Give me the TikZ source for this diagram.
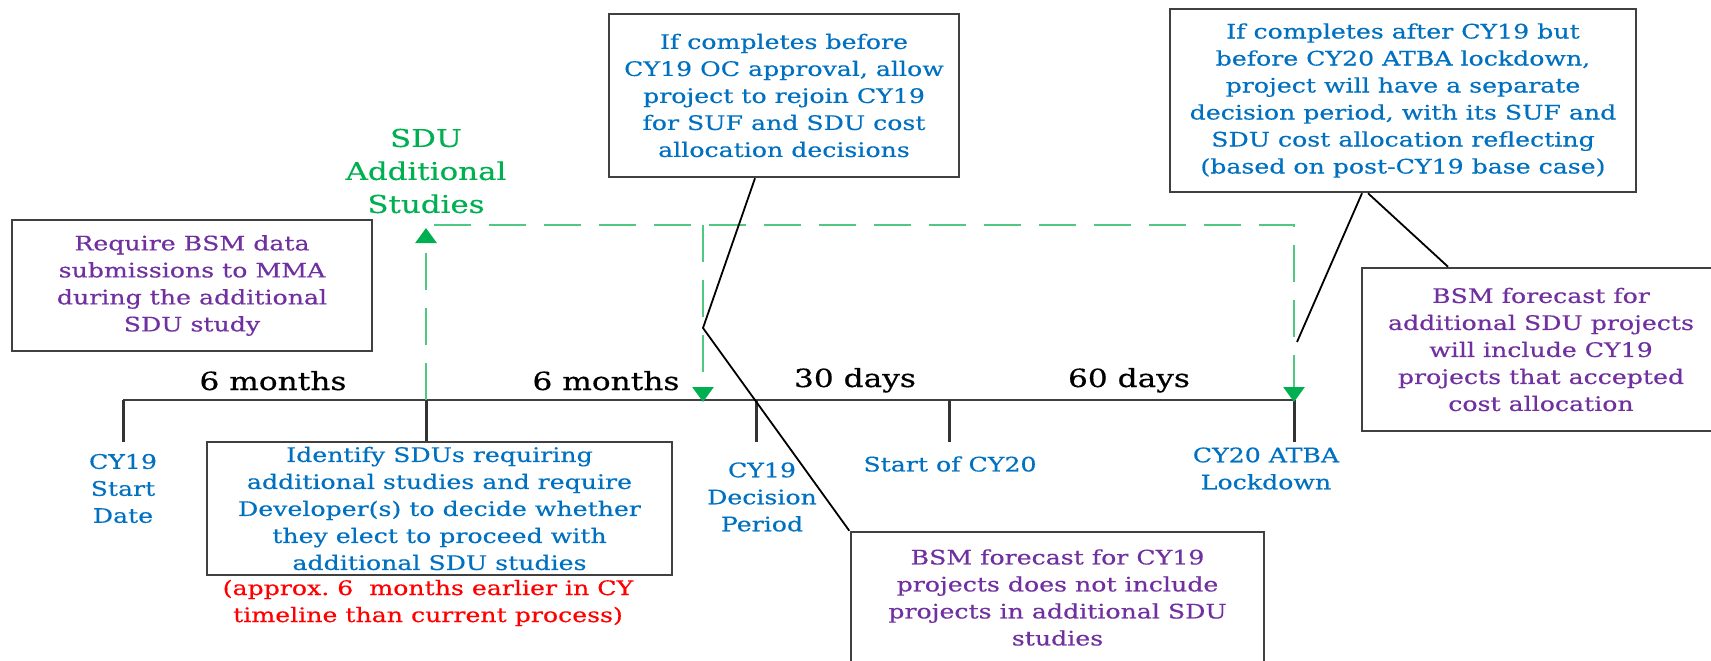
\documentclass[tikz,border=0pt]{standalone}
\usepackage{fontspec}
\setmainfont{DejaVu Serif}[FakeBold=0.4]
\usetikzlibrary{arrows.meta}

\definecolor{cyblue}{RGB}{0,112,192}
\definecolor{cypurple}{RGB}{112,48,160}
\definecolor{cygreen}{RGB}{0,176,80}
\definecolor{cydash}{RGB}{80,200,130}
\definecolor{cyframe}{RGB}{64,64,64}

\begin{document}
\begin{tikzpicture}[
                x=1pt, y=-1pt,
                txt/.style={xscale=1.26, inner sep=0pt, align=center, font=\fontsize{20}{27}\selectfont},
                notebox/.style={txt, rectangle, draw=cyframe, line width=2.5pt},
                durlabel/.style={xscale=1.25, inner sep=0pt, anchor=base, font=\fontsize{25}{33}\selectfont},
                tickline/.style={line width=3pt, draw=black!80},
                leader/.style={line width=1.8pt, black},
                sdudash/.style={draw=cydash, line width=2.8pt, dash pattern=on 37pt off 18pt},
                sdutip/.style={-{Triangle[width=21pt,length=15pt,color=cygreen]}},
            ]
            \useasboundingbox (0,0) rectangle (1711,661);

            % timeline points
            \coordinate (t0) at (123,400);
            \coordinate (t1) at (426,400);
            \coordinate (t2) at (756,400);
            \coordinate (t3) at (949,400);
            \coordinate (t4) at (1294,400);

            \node[notebox, text=cypurple, minimum width=286pt, minimum height=131pt] (reqbsm)   at (192,285.5)   {Require BSM data\\submissions to MMA\\during the additional\\SDU study};
            \node[notebox, text=cyblue,   minimum width=369pt, minimum height=133pt] (identify) at (439.5,508.5) {Identify SDUs requiring\\additional studies and require\\Developer(s) to decide whether\\they elect to proceed with\\additional SDU studies};
            \node[notebox, text=cyblue,   minimum width=278pt, minimum height=163pt] (before)   at (784,95.5)    {If completes before\\CY19 OC approval, allow\\project to rejoin CY19\\for SUF and SDU cost\\allocation decisions};
            \node[notebox, text=cyblue,   minimum width=370pt, minimum height=183pt] (after)    at (1403,100.5)  {If completes after CY19 but\\before CY20 ATBA lockdown,\\project will have a separate\\decision period, with its SUF and\\SDU cost allocation reflecting\\(based on post-CY19 base case)};
            \node[notebox, text=cypurple, minimum width=284pt, minimum height=163pt] (fcadd)    at (1541,349.5)  {BSM forecast for\\additional SDU projects\\will include CY19\\projects that accepted\\cost allocation};
            \node[notebox, text=cypurple, minimum width=328pt, minimum height=131pt] (fccy19)   at (1057.5,597.5) {BSM forecast for CY19\\projects does not include\\projects in additional SDU\\studies};

            \node[txt, text=cyblue] (lblstart)  at (123,488.5) {CY19\\Start\\Date};
            \node[txt, text=cyblue] (lbldecide) at (762,497)   {CY19\\Decision\\Period};
            \node[txt, text=cyblue] (lblcy20)   at (950,464)   {Start of CY20};
            \node[txt, text=cyblue] (lbllock)   at (1266,468.5) {CY20 ATBA\\Lockdown};
            \node[txt, text=red]    (lblnote)   at (428,603)   {(approx.\ 6~ months earlier in CY\\timeline than current process)};
            \node[txt, text=cygreen, font=\fontsize{24.5}{33}\selectfont] (sdulbl) at (426,171) {SDU\\Additional\\Studies};

            \node[durlabel] (dur1) at (273,390)  {6 months};
            \node[durlabel] (dur2) at (606,390)  {6 months};
            \node[durlabel] (dur3) at (855,387)  {30 days};
            \node[durlabel] (dur4) at (1129,387) {60 days};

            % timeline and ticks
            \draw[cyframe, line width=2.5pt] (t0) -- (t4);
            \draw[tickline] (t0) -- ++(0,42);
            \draw[tickline] (t1) -- (t1 |- identify.north);
            \draw[tickline] (t2) -- ++(0,42);
            \draw[tickline] (t3) -- ++(0,42);
            \draw[tickline] (t4) -- ++(0,42);

            % additional studies loop
            \coordinate (sdutop)  at (426,228);
            \coordinate (sduline) at (434,225);
            \coordinate (sdudrop) at (703,225);
            \draw[sdudash, sdutip] (t1) -- (sdutop);
            \draw[sdudash, sdutip] (sduline) -| ([yshift=-2pt]t4);
            \draw[sdudash, sdutip] (sdudrop) -- ([yshift=-2pt]sdudrop |- t2);

            % callout lines
            \coordinate (kinkA) at (703,328);
            \coordinate (kinkB) at (1297,342);
            \draw[leader] ([xshift=-29pt]before.south) -- (kinkA) -- (fccy19.north west);
            \draw[leader] ([xshift=-41pt]after.south) -- (kinkB);
            \draw[leader] ([xshift=-35pt]after.south) -- ([xshift=-93pt]fcadd.north);
        \end{tikzpicture}
\end{document}
